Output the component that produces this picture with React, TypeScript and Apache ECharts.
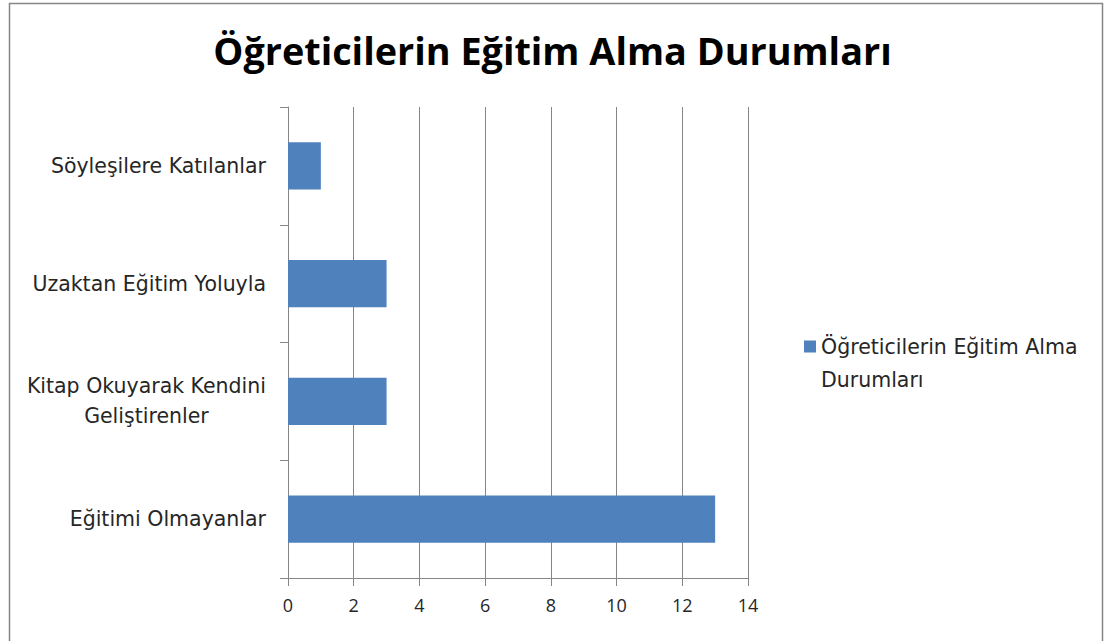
import React, { useEffect, useRef } from "react";
import * as echarts from "echarts";

const titleText = "Öğreticilerin Eğitim Alma Durumları";
const seriesName = "Öğreticilerin Eğitim Alma Durumları";
const legendLines = ["Öğreticilerin Eğitim Alma", "Durumları"];
const categories = [
  "Eğitimi Olmayanlar",
  "Kitap Okuyarak Kendini\nGeliştirenler",
  "Uzaktan Eğitim Yoluyla",
  "Söyleşilere Katılanlar",
];
const values = [13, 3, 3, 1];
const xMin = 0;
const xMax = 14;
const xInterval = 2;

const FONT = "'Open Sans', 'Noto Sans', sans-serif";
const LFONT = "'DejaVu Sans', 'Open Sans', sans-serif";
const GRAY = "#868686";
const TEXT = "#262626";

export default function App() {
  const ref = useRef<HTMLDivElement>(null);
  useEffect(() => {
    document.body.style.margin = "0";
    const chart = echarts.init(ref.current!, null, { renderer: "svg" });
    chart.setOption({
      animation: false,
      backgroundColor: "#ffffff",
      title: {
        text: titleText,
        left: "center",
        top: 26,
        textStyle: { fontFamily: FONT, fontSize: 37.8, fontWeight: "bold", color: "#000" },
      },
      graphic: [
        {
          type: "rect",
          shape: { x: 9.5, y: 3.5, width: 1093, height: 660 },
          style: { fill: "none", stroke: GRAY, lineWidth: 1.5 },
          silent: true,
          z: 100,
        },
      ],
      legend: {
        left: 799,
        top: 298,
        orient: "vertical",
        itemWidth: 12,
        itemHeight: 12,
        itemGap: 6,
        icon: "rect",
        formatter: () => ["{e| }", ...legendLines.map((l) => `{a|${l}}`)].join("\n"),
        textStyle: {
          fontFamily: LFONT,
          fontSize: 20.5,
          color: TEXT,
          rich: {
            e: { fontFamily: LFONT, fontSize: 20.5, lineHeight: 33 },
            a: { fontFamily: LFONT, fontSize: 20.5, lineHeight: 33, color: TEXT },
          },
        },
        data: [seriesName],
      },
      grid: { left: 288, right: 357, top: 107, bottom: 63, containLabel: false },
      xAxis: {
        type: "value",
        min: xMin,
        max: xMax,
        interval: xInterval,
        axisLine: { show: true, lineStyle: { color: GRAY, width: 1 } },
        axisTick: { show: true, length: 8, lineStyle: { color: GRAY } },
        splitLine: { show: true, lineStyle: { color: GRAY, width: 1 } },
        axisLabel: { margin: 18, fontFamily: FONT, fontSize: 18, color: TEXT },
      },
      yAxis: {
        type: "category",
        data: categories,
        axisLine: { show: true, lineStyle: { color: GRAY, width: 1 } },
        axisTick: { show: true, length: 8, lineStyle: { color: GRAY } },
        axisLabel: {
          margin: 22,
          fontFamily: LFONT,
          fontSize: 20.5,
          color: TEXT,
          lineHeight: 30,
          formatter: (v: string) =>
            v
              .split("\n")
              .map((l) => `{c|${l}}`)
              .join("\n"),
          rich: {
            c: { align: "center", fontFamily: LFONT, fontSize: 20.5, color: TEXT, lineHeight: 30 },
          },
        },
      },
      series: [
        {
          name: seriesName,
          type: "bar",
          data: values,
          barCategoryGap: "60%",
          itemStyle: { color: "#4F81BD" },
        },
      ],
    });
    return () => chart.dispose();
  }, []);
  return <div ref={ref} style={{ width: 1105, height: 641 }} />;
}
